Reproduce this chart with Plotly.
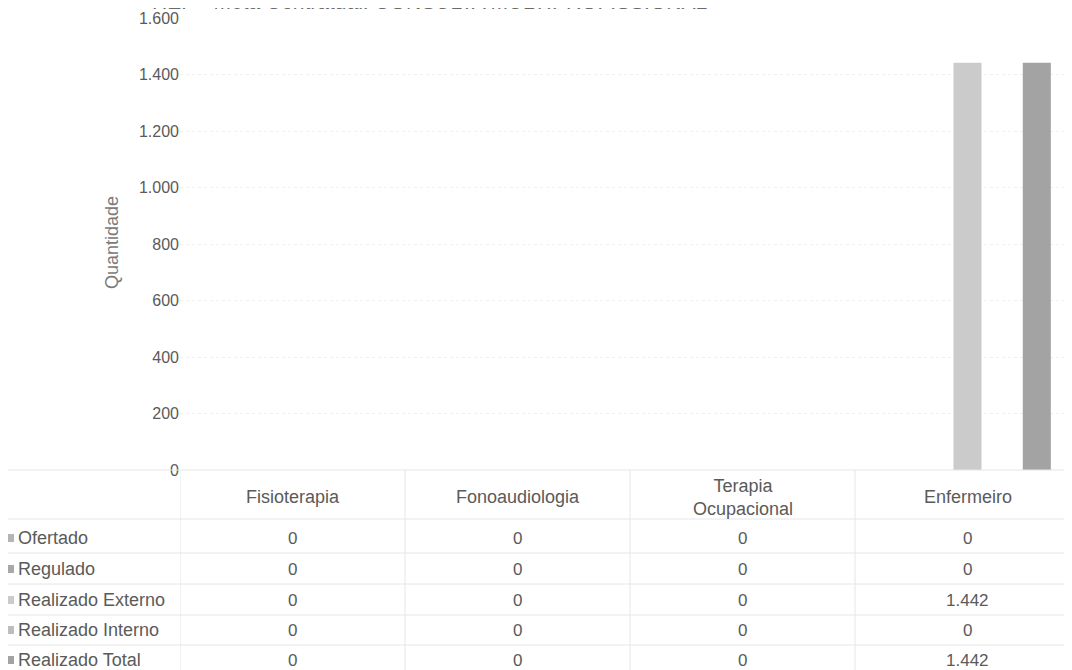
import plotly.graph_objects as go

# ---- data ----
categories = ["Fisioterapia", "Fonoaudiologia", "Terapia Ocupacional", "Enfermeiro"]
header_labels = ["Fisioterapia", "Fonoaudiologia", "Terapia<br>Ocupacional", "Enfermeiro"]
series_names = ["Ofertado", "Regulado", "Realizado Externo", "Realizado Interno", "Realizado Total"]
ofertado = [0, 0, 0, 0]
regulado = [0, 0, 0, 0]
realizado_externo = [0, 0, 0, 1442]
realizado_interno = [0, 0, 0, 0]
realizado_total = [0, 0, 0, 1442]
y_ticks = [0, 200, 400, 600, 800, 1000, 1200, 1400, 1600]
title_text = "HEP - Meta Contratual: CONSULTA MULTIPROFISSIONAL"
y_title = "Quantidade"

series_values = [ofertado, regulado, realizado_externo, realizado_interno, realizado_total]
colors = ["#b4b4b4", "#a8a8a8", "#cbcbcb", "#bdbdbd", "#a3a3a3"]

OFF = 8  # page body margin
W, H = 1072 - OFF, 670 - OFF
PLOT_LEFT, PLOT_TOP, PLOT_BOTTOM = 180, 18, 470  # screen pixels
L = PLOT_LEFT - OFF
T = PLOT_TOP - OFF
B = H - (PLOT_BOTTOM - OFF)
R = 0
PH = H - T - B
PW = W - L - R
CAT_W = 225
FONT = "Liberation Sans, Arial, sans-serif"
TXT = "#5a5a5a"


def py(s):
    """screen y pixel -> paper y"""
    return (PLOT_BOTTOM - s) / PH


def px(s):
    """screen x pixel -> paper x"""
    return (s - PLOT_LEFT) / PW


fig = go.Figure()
for name, vals, c in zip(series_names, series_values, colors):
    fig.add_trace(go.Bar(x=list(range(len(categories))), y=vals, name=name,
                         marker=dict(color=c, line=dict(width=0))))

fig.update_layout(
    width=W, height=H,
    margin=dict(l=L, r=R, t=T, b=B, autoexpand=False),
    paper_bgcolor="white", plot_bgcolor="white",
    barmode="group", bargap=0.23, bargroupgap=0.19,
    showlegend=False,
    separators=",.",
    font=dict(family=FONT, color=TXT, size=16),
)
fig.update_xaxes(range=[-0.5, PW / CAT_W - 0.5], showticklabels=False,
                 showgrid=False, zeroline=False, showline=False, ticks="")
fig.update_yaxes(range=[0, 1600], tickvals=y_ticks, tickformat=",d",
                 showgrid=True, gridcolor="#efefef", griddash="dot",
                 zeroline=False, showline=False, ticks="",
                 tickfont=dict(size=16, color=TXT, family=FONT))

ann = []
# title, clipped at the top edge as in the scan
ann.append(dict(text=title_text, x=px(150), y=py(15), xref="paper", yref="paper",
                xanchor="left", yanchor="bottom", showarrow=False,
                font=dict(size=21, color="#6a6a6a", family=FONT)))
# y-axis title
ann.append(dict(text=y_title, x=px(112), y=py(243), xref="paper", yref="paper",
                textangle=-90, showarrow=False, xanchor="center", yanchor="middle",
                font=dict(size=18, color="#7a7a7a", family=FONT)))
# table header
for i, lab in enumerate(header_labels):
    ann.append(dict(text=lab, x=i, y=py(497), xref="x", yref="paper",
                    showarrow=False, xanchor="center", yanchor="middle",
                    font=dict(size=18, color=TXT, family=FONT)))
row_y = [538, 569, 600, 630, 660]
shapes = []
for r, (name, vals, c) in enumerate(zip(series_names, series_values, colors)):
    ann.append(dict(text=name, x=px(16), y=py(row_y[r]), xref="paper", yref="paper",
                    showarrow=False, xanchor="left", yanchor="middle",
                    font=dict(size=18, color=TXT, family=FONT)))
    shapes.append(dict(type="rect", xref="paper", yref="paper",
                       x0=px(6), x1=px(14), y0=py(row_y[r] + 4), y1=py(row_y[r] - 4),
                       fillcolor=c, line=dict(width=0)))
    for i, v in enumerate(vals):
        ann.append(dict(text=f"{v:,}".replace(",", "."), x=i, y=py(row_y[r]),
                        xref="x", yref="paper", showarrow=False,
                        xanchor="center", yanchor="middle",
                        font=dict(size=17, color=TXT, family=FONT)))
# table grid lines
line_col = "#e6e6e6"
for yb in [PLOT_BOTTOM, 519, 553, 584, 615, 645]:
    shapes.append(dict(type="line", xref="paper", yref="paper", x0=px(3), x1=1,
                       y0=py(yb), y1=py(yb), line=dict(color=line_col, width=1)))
for i in range(len(categories)):
    shapes.append(dict(type="line", xref="x", yref="paper", x0=i - 0.5, x1=i - 0.5,
                       y0=py(PLOT_BOTTOM), y1=py(670), line=dict(color=line_col, width=1)))
shapes.append(dict(type="line", xref="paper", yref="paper", x0=px(3), x1=px(3),
                   y0=py(519), y1=py(670), line=dict(color=line_col, width=1)))

fig.update_layout(annotations=ann, shapes=shapes)
fig.write_html("out.html")
